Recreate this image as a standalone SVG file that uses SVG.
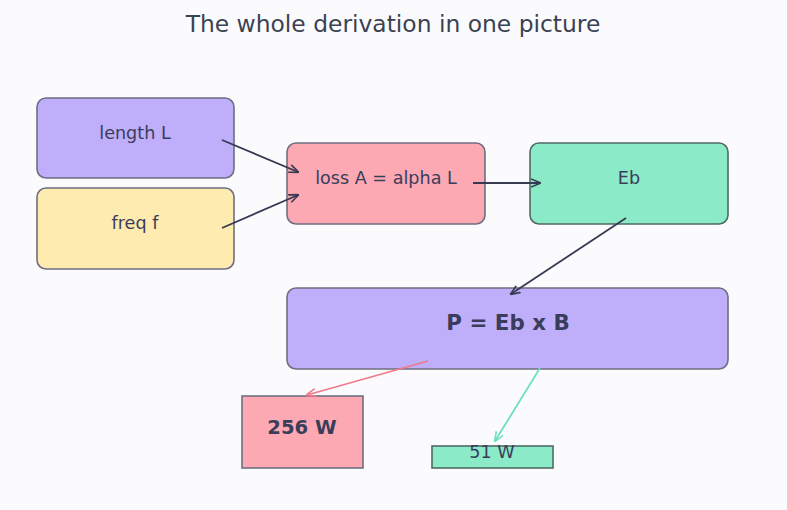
<svg xmlns="http://www.w3.org/2000/svg" width="787" height="510" viewBox="0 0 787 510">
<defs>
<style>
.t{font-family:"DejaVu Sans","Liberation Sans",sans-serif;fill:#3a3d5a;text-anchor:middle}
.n{stroke:#6e6e80;stroke-width:1.6}
.c{fill:none;stroke-width:1.8}
</style>
<marker id="ad" viewBox="0 0 10 10" refX="9" refY="5" markerWidth="10" markerHeight="10" orient="auto" markerUnits="userSpaceOnUse"><path d="M0,1 L10,5 L0,9" fill="none" stroke="#363b52" stroke-width="1.6"/></marker>
<marker id="ap" viewBox="0 0 10 10" refX="9" refY="5" markerWidth="10" markerHeight="10" orient="auto" markerUnits="userSpaceOnUse"><path d="M0,1 L10,5 L0,9" fill="none" stroke="#f07a8a" stroke-width="1.6"/></marker>
<marker id="ag" viewBox="0 0 10 10" refX="9" refY="5" markerWidth="10" markerHeight="10" orient="auto" markerUnits="userSpaceOnUse"><path d="M0,1 L10,5 L0,9" fill="none" stroke="#6ee0c0" stroke-width="1.6"/></marker>
</defs>
<rect width="787" height="510" fill="#fbfbfe"/>
<text class="t" x="393" y="32" font-size="23.4" style="fill:#3b4252">The whole derivation in one picture</text>
<g id="length">
<rect class="n" x="37" y="98" width="197" height="80" rx="9" fill="#bfaefa"/>
<text class="t" x="135" y="139" font-size="17.6">length L</text>
</g>
<g id="freq">
<rect class="n" x="37" y="188" width="197" height="81" rx="9" fill="#feebb0"/>
<text class="t" x="135" y="229" font-size="17.6">freq f</text>
</g>
<g id="loss">
<rect class="n" x="287" y="143" width="198" height="81" rx="9" fill="#fca9b4"/>
<text class="t" x="386" y="184" font-size="17.6">loss A = alpha L</text>
</g>
<g id="eb">
<rect x="530" y="143" width="198" height="81" rx="9" fill="#8beac8" stroke="#4f6a64" stroke-width="1.6"/>
<text class="t" x="629" y="184" font-size="17.6">Eb</text>
</g>
<g id="power">
<rect class="n" x="287" y="288" width="441" height="81" rx="9" fill="#bfaefa"/>
<text class="t" x="508" y="330" font-size="21.4" font-weight="bold">P = Eb x B</text>
</g>
<g id="w256">
<rect class="n" x="242" y="396" width="121" height="72" fill="#fca9b4"/>
<text class="t" x="302" y="434" font-size="19.6" font-weight="bold">256 W</text>
</g>
<g id="w51">
<rect x="432" y="446" width="121" height="22" fill="#8beac8" stroke="#4f6a64" stroke-width="1.6"/>
<text class="t" x="492" y="458" font-size="17.6">51 W</text>
</g>
<g id="connectors">
<path class="c" stroke="#363b52" d="M222,140 L298,172" marker-end="url(#ad)"/>
<path class="c" stroke="#363b52" d="M222,228 L298,195" marker-end="url(#ad)"/>
<path class="c" stroke="#363b52" d="M473,183 L540,183" marker-end="url(#ad)"/>
<path class="c" stroke="#363b52" d="M626,218 L511,294" marker-end="url(#ad)"/>
<path class="c" stroke="#f07a8a" d="M428,361 L307,395" marker-end="url(#ap)"/>
<path class="c" stroke="#6ee0c0" d="M540,368 L495,441" marker-end="url(#ag)"/>
</g>
</svg>
